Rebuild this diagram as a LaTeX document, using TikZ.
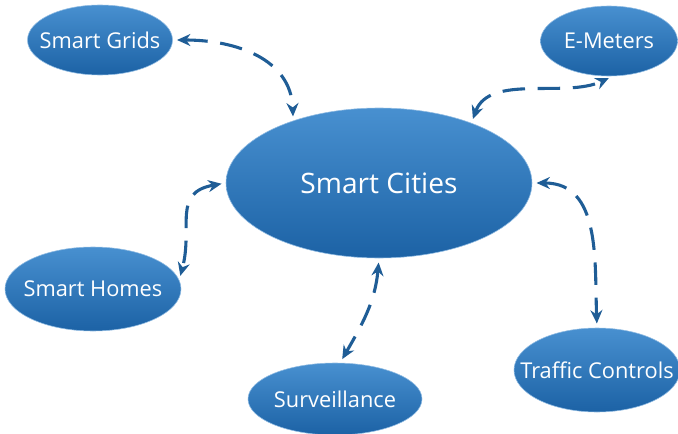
\documentclass[tikz,border=0pt]{standalone}
\usepackage{fontspec}
\setmainfont{Open Sans}
\usetikzlibrary{arrows.meta, shapes.geometric}
\definecolor{bluetop}{HTML}{4890D0}
\definecolor{bluebot}{HTML}{1C62A5}
\definecolor{linkblue}{HTML}{1F5D96}
\begin{document}
\begin{tikzpicture}[
    x=0.025cm, y=-0.025cm,
    bubble/.style={ellipse, inner sep=0pt, top color=bluetop, bottom color=bluebot, draw=bluetop!60!white, line width=0.4pt, text=white, font=\fontsize{15.5}{18}\selectfont},
    link/.style={draw=linkblue, line width=2.2pt, dash pattern=on 16pt off 9pt, {Stealth[length=9.5pt,width=8.5pt]}-{Stealth[length=9.5pt,width=8.5pt]}, shorten <=3pt, shorten >=3pt},
  ]
    \useasboundingbox (0, 0) rectangle (678, 434);

    % Knoten
    \node[bubble, minimum width=306*0.025cm, minimum height=150*0.025cm, font=\fontsize{20}{24}\selectfont] (cities) at (379, 183) {\makebox[0pt]{Smart Cities}};
    \node[bubble, minimum width=145*0.025cm, minimum height=70*0.025cm] (grids) at (100, 40) {\makebox[0pt]{Smart Grids}};
    \node[bubble, minimum width=137*0.025cm, minimum height=70*0.025cm] (meters) at (609, 41) {\makebox[0pt]{E-Meters}};
    \node[bubble, minimum width=176*0.025cm, minimum height=84*0.025cm] (homes) at (93, 289) {\makebox[0pt]{Smart Homes}};
    \node[bubble, minimum width=174*0.025cm, minimum height=72*0.025cm] (surv) at (335, 399) {\makebox[0pt]{Surveillance}};
    \node[bubble, minimum width=166*0.025cm, minimum height=84*0.025cm] (traffic) at (597, 370) {\makebox[0pt]{Traffic Controls}};

    % Verbindungen
    \draw[link] (grids.east) to[out=0, in=92, looseness=1.1] (cities.144);
    \draw[link] (cities.33) to[out=70, in=205, looseness=0.9] (meters.276);
    \draw[link] (cities.west) to[out=190, in=75, looseness=1.3] (homes.6);
    \draw[link] (cities.south) to[out=-95, in=60] (surv.82);
    \draw[link] (cities.east) to[out=0, in=92, looseness=1.1] (traffic.north);
  \end{tikzpicture}
\end{document}
